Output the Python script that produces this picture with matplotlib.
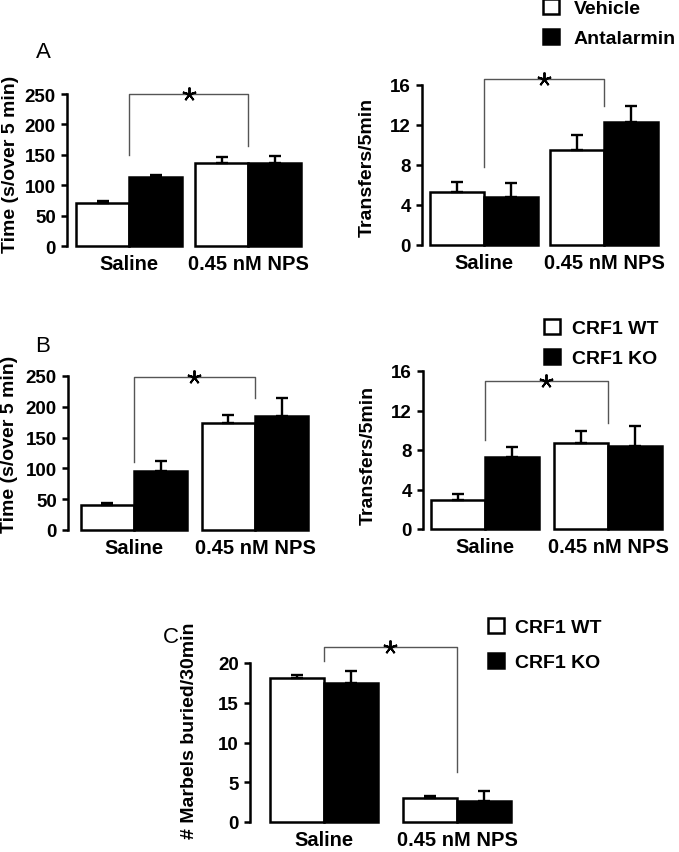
import matplotlib
matplotlib.use('Agg')
import matplotlib.pyplot as plt
import numpy as np

plt.rcParams['font.family'] = ['Liberation Sans', 'DejaVu Sans']

W, H = 679, 853

# ---------------- data ----------------
groups = ['Saline', '0.45 nM NPS']

# Panel A
a_series = ['Vehicle', 'Antalarmin']
a_time_vehicle = [70, 137]
a_time_vehicle_err = [4, 10]
a_time_antalarmin = [113, 136]
a_time_antalarmin_err = [3, 12]
a_time_bracket = [150, 250, 165]          # left end, top, right end

a_tr_vehicle = [5.3, 9.5]
a_tr_vehicle_err = [1.0, 1.5]
a_tr_antalarmin = [4.8, 12.3]
a_tr_antalarmin_err = [1.4, 1.6]
a_tr_bracket = [7.8, 16.6, 13.9]

# Panel B
b_series = ['CRF1 WT', 'CRF1 KO']
b_time_wt = [41, 174]
b_time_wt_err = [3, 13]
b_time_ko = [96, 185]
b_time_ko_err = [16, 29]
b_time_bracket = [111, 249, 214]

b_tr_wt = [2.95, 8.7]
b_tr_wt_err = [0.6, 1.25]
b_tr_ko = [7.3, 8.45]
b_tr_ko_err = [1.05, 2.0]
b_tr_bracket = [9.0, 15.0, 10.7]

# Panel C
c_series = ['CRF1 WT', 'CRF1 KO']
c_marb_wt = [18.15, 3.0]
c_marb_wt_err = [0.4, 0.25]
c_marb_ko = [17.5, 2.7]
c_marb_ko_err = [1.5, 1.2]
c_marb_bracket = [20.3, 22.0, 6.3]

time_ticks = [0, 50, 100, 150, 200, 250]
tr_ticks = [0, 4, 8, 12, 16]
marb_ticks = [0, 5, 10, 15, 20]

# ---------------- drawing ----------------
fig = plt.figure(figsize=(W / 100, H / 100), dpi=100)

LW = 1.8
TICK_FS = 13.5
XL_FS = 14.5
YL_FS = 14
LEG_FS = 14


def add_ax(left, top, right, bottom):
    return fig.add_axes([left / W, 1 - bottom / H, (right - left) / W, (bottom - top) / H])


def panel(box, xlim, bw, s1, e1, s2, e2, ticks, bracket):
    ax = add_ax(*box)
    x = np.arange(len(groups))
    b1 = ax.bar(x - bw / 2, s1, bw, color='white', edgecolor='black', linewidth=LW, clip_on=False, zorder=2)
    b2 = ax.bar(x + bw / 2, s2, bw, color='black', edgecolor='black', linewidth=LW, clip_on=False, zorder=2)
    for xs, s, e in ((x - bw / 2, s1, e1), (x + bw / 2, s2, e2)):
        ax.errorbar(xs, s, yerr=[np.zeros(len(e)), e], fmt='none', ecolor='black',
                    elinewidth=1.7, capsize=4.5, capthick=1.7, clip_on=False, zorder=3)
    ax.set_xlim(*xlim)
    ax.set_ylim(ticks[0], ticks[-1])
    for sp in ('top', 'right', 'bottom'):
        ax.spines[sp].set_visible(False)
    ax.spines['left'].set_linewidth(LW)
    ax.spines['left'].set_bounds(ticks[0], ticks[-1])
    ax.set_yticks(ticks)
    ax.set_yticklabels([str(t) for t in ticks], fontsize=TICK_FS, fontweight='bold')
    ax.tick_params(axis='y', direction='out', length=4, width=LW, pad=4)
    ax.set_xticks(x)
    ax.set_xticklabels(groups, fontsize=XL_FS, fontweight='bold')
    ax.tick_params(axis='x', length=0, pad=6)
    lft, top, rgt = bracket
    ax.plot([x[0], x[0], x[1], x[1]], [lft, top, top, rgt], color='#555555', lw=1.0,
            clip_on=False, zorder=1)
    ax.plot([(x[0] + x[1]) / 2], [top], marker=(5, 2, 0), ms=10, mew=1.4,
            color='black', clip_on=False, zorder=4)
    ax.patch.set_visible(False)
    return ax, b1, b2


def ylabel(txt, xp, yp):
    fig.text(xp / W, 1 - yp / H, txt, rotation=90, ha='center', va='center',
             fontsize=YL_FS, fontweight='bold')


def legend(handles, labels, xp, yp, spacing, textpad):
    fig.legend(handles, labels, loc='upper left', bbox_to_anchor=(xp / W, 1 - yp / H),
               frameon=False, borderpad=0, borderaxespad=0, handlelength=0.8,
               handleheight=0.8, handletextpad=textpad, labelspacing=spacing,
               prop={'weight': 'bold', 'size': LEG_FS})


# A left
ax, h1, h2 = panel((67, 95, 310, 247), (-0.521, 1.52), 0.445,
                   a_time_vehicle, a_time_vehicle_err, a_time_antalarmin, a_time_antalarmin_err,
                   time_ticks, a_time_bracket)
ylabel('Time (s/over 5 min)', 11, 164)
# A right
ax, h1, h2 = panel((422, 86, 665, 246), (-0.517, 1.508), 0.45,
                   a_tr_vehicle, a_tr_vehicle_err, a_tr_antalarmin, a_tr_antalarmin_err,
                   tr_ticks, a_tr_bracket)
ylabel('Transfers/5min', 367, 167)
legend([h1, h2], a_series, 543, 0, 0.6, 0.77)

# B left
ax, h1, h2 = panel((68, 377, 315, 531), (-0.545, 1.496), 0.44,
                   b_time_wt, b_time_wt_err, b_time_ko, b_time_ko_err,
                   time_ticks, b_time_bracket)
ylabel('Time (s/over 5 min)', 10, 444)
# B right
ax, h1, h2 = panel((423, 372, 666, 530), (-0.504, 1.472), 0.44,
                   b_tr_wt, b_tr_wt_err, b_tr_ko, b_tr_ko_err,
                   tr_ticks, b_tr_bracket)
ylabel('Transfers/5min', 368, 455)
legend([h1, h2], b_series, 544, 320, 0.6, 0.62)

# C
ax, h1, h2 = panel((250, 664, 516, 823), (-0.556, 1.444), 0.405,
                   c_marb_wt, c_marb_wt_err, c_marb_ko, c_marb_ko_err,
                   marb_ticks, c_marb_bracket)
ylabel('# Marbels buried/30min', 190, 731)
legend([h1, h2], c_series, 488, 619, 0.85, 0.57)

# panel letters
for letter, xp, yp in (('A', 43, 52), ('B', 43, 347), ('C', 171, 638)):
    fig.text(xp / W, 1 - yp / H, letter, ha='center', va='center', fontsize=16)

fig.savefig('out.png', dpi=100)
